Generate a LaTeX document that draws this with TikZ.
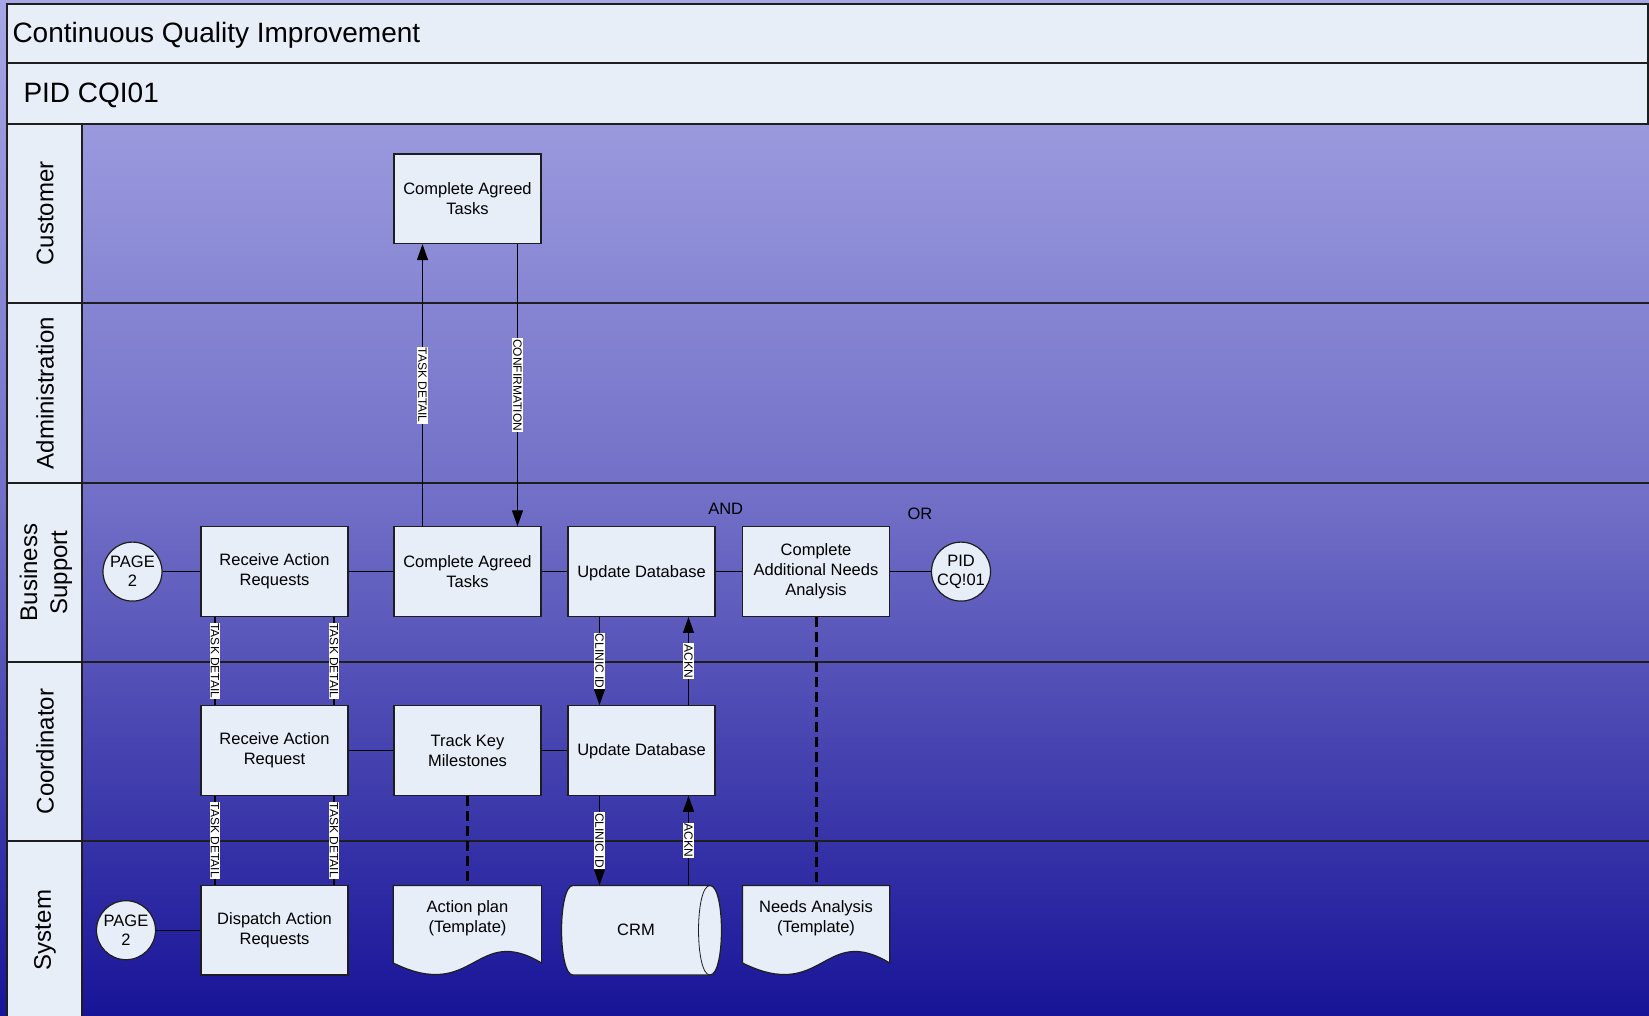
\documentclass[tikz,border=0pt]{standalone}
\usepackage{fontspec}
\setmainfont{Liberation Sans}
\usetikzlibrary{arrows.meta,calc}
\definecolor{boxfill}{RGB}{231,238,248}
\definecolor{bgtop}{RGB}{168,167,229}
\definecolor{bgmid}{RGB}{112,110,198}
\definecolor{bgbot}{RGB}{24,20,152}
\definecolor{edge}{RGB}{30,30,30}
\begin{document}
\begin{tikzpicture}[x=1pt,y=-1pt,
  every node/.style={font=\fontsize{16.5}{20}\selectfont, text=black},
  proc/.style={draw=edge, line width=1.2pt, fill=boxfill, minimum width=147pt, minimum height=89.5pt, align=center, inner sep=2pt},
  conn/.style={circle, draw=edge, line width=1.2pt, fill=boxfill, minimum size=59pt, inner sep=0pt, align=center, font=\fontsize{16.5}{19}\selectfont},
  shapeonly/.style={minimum width=147pt, align=center, inner sep=0pt},
  flow/.style={line width=1.2pt, draw=black},
  arr/.style={flow, -{Triangle[length=16pt,width=11pt]}},
  dashline/.style={line width=3pt, draw=black, dash pattern=on 10pt off 5pt},
  lbl/.style={fill=white, inner sep=1pt, rotate=-90, font=\fontsize{12}{12}\selectfont},
  lanetxt/.style={rotate=90, align=center, font=\fontsize{24}{30}\selectfont},
  gate/.style={font=\fontsize{16.5}{20}\selectfont},
]
\useasboundingbox (0,0) rectangle (1649,1016);
\shade[top color=bgtop, bottom color=bgbot, middle color=bgmid] (0,0) rectangle (1649,1016);

% title bars
\draw[line width=1.5pt, draw=edge, fill=boxfill] (7,4) rectangle (1648,63);
\draw[line width=1.5pt, draw=edge, fill=boxfill] (7,63) rectangle (1648,124);
\node[anchor=west, font=\fontsize{28}{30}\selectfont] (title) at (9,35) {Continuous Quality Improvement};
\node[anchor=west, font=\fontsize{28}{30}\selectfont] (pidtitle) at (20,95) {PID CQI01};

% lane header column and lane lines
\draw[line width=1.2pt, draw=edge, fill=boxfill] (7,124) rectangle (82,1018);
\foreach \yy in {303,483,662,841} {\draw[line width=1.2pt, draw=edge] (7,\yy) -- (1649,\yy);}
\node[lanetxt] (lcust) at (45,213.5) {Customer};
\node[lanetxt] (ladmin) at (45,393) {Administration};
\node[lanetxt] (lbs) at (46,572.5) {Business\\Support};
\node[lanetxt] (lcoord) at (45,751.5) {Coordinator};
\node[lanetxt] (lsys) at (45,930) {System};

% customer lane
\node[proc] (cat1) at (467.5,198.75) {Complete Agreed\\Tasks};

% business support lane
\node[conn] (p1) at (132.5,571.6) {PAGE\\2};
\node[proc] (rar1) at (274.5,571.6) {Receive Action\\Requests};
\node[proc] (cat2) at (467.5,571.6) {Complete Agreed\\Tasks};
\node[proc, text depth=1pt] (upd1) at (641.5,571.6) {Update Database};
\node[proc] (cana) at (816,571.6) {Complete\\Additional Needs\\Analysis};
\node[conn] (pid2) at (961,571.6) {PID\\CQ!01};
\node[gate] (and) at (725.7,509) {AND};
\node[gate] (or) at (920,514) {OR};

% coordinator lane
\node[proc] (rar2) at (274.5,750.4) {Receive Action\\Request};
\node[proc] (tkm) at (467.5,750.4) {Track Key\\Milestones};
\node[proc, text depth=1pt] (upd2) at (641.5,750.4) {Update Database};

% system lane
\node[conn] (p2) at (126,930.2) {PAGE\\2};
\node[proc] (dar) at (274.5,930.2) {Dispatch Action\\Requests};
% action plan document
\draw[flow, draw=edge, fill=boxfill] (393.3,885.5) -- (541.6,885.5) -- (541.6,963)
  .. controls (474.9,923) and (474.9,1003) .. (393.3,963) -- cycle;
\node[shapeonly, minimum height=65pt] (ap) at (467.5,918) {Action plan\\(Template)};
% CRM cylinder
\draw[flow, draw=edge, fill=boxfill] (573,885.5) -- (710,885.5)
  .. controls (725.3,885.5) and (725.3,975) .. (710,975) -- (573,975)
  .. controls (557.7,975) and (557.7,885.5) .. (573,885.5) -- cycle;
\draw[line width=0.8pt, draw=edge] (710,885.5) .. controls (694.7,885.5) and (694.7,975) .. (710,975);
\node[shapeonly, minimum height=89.5pt] (crm) at (636,930.2) {CRM};
% needs analysis document
\draw[flow, draw=edge, fill=boxfill] (742.5,885.5) -- (889.7,885.5) -- (889.7,963)
  .. controls (823.5,923) and (823.5,1003) .. (742.5,963) -- cycle;
\node[shapeonly, minimum height=65pt] (na) at (816,918) {Needs Analysis\\(Template)};

% horizontal flow lines
\draw[flow] (p1) -- (rar1);
\draw[flow] (rar1) -- (cat2);
\draw[flow] (cat2) -- (upd1);
\draw[flow] (upd1) -- (cana);
\draw[flow] (cana) -- (pid2);
\draw[flow] (rar2) -- (tkm);
\draw[flow] (tkm) -- (upd2);
\draw[flow] (p2) -- (dar);

% customer <-> business support
\draw[arr] ([xshift=-45pt]cat2.north) -- node[lbl, midway] {TASK DETAIL} ([xshift=-45pt]cat1.south);
\draw[arr] ([xshift=50pt]cat1.south) -- node[lbl, midway] {CONFIRMATION} ([xshift=50pt]cat2.north);

% task detail links
\draw[flow] ([xshift=-59.5pt]rar1.south) -- node[lbl, midway] {TASK DETAIL} ([xshift=-59.5pt]rar2.north);
\draw[flow] ([xshift=59.5pt]rar1.south) -- node[lbl, midway] {TASK DETAIL} ([xshift=59.5pt]rar2.north);
\draw[flow] ([xshift=-59.5pt]rar2.south) -- node[lbl, midway] {TASK DETAIL} ([xshift=-59.5pt]dar.north);
\draw[flow] ([xshift=59.5pt]rar2.south) -- node[lbl, midway] {TASK DETAIL} ([xshift=59.5pt]dar.north);

% database links
\draw[arr] ([xshift=-42pt]upd1.south) -- node[lbl, midway] {CLINIC ID} ([xshift=-42pt]upd2.north);
\draw[arr] ([xshift=47pt]upd2.north) -- node[lbl, midway] {ACKN} ([xshift=47pt]upd1.south);
\draw[arr] ([xshift=-42pt]upd2.south) -- node[lbl, midway] {CLINIC ID} ([xshift=-36.5pt]crm.north);
\draw[arr] ([xshift=52.5pt]crm.north) -- node[lbl, midway] {ACKN} ([xshift=47pt]upd2.south);

% dashed template links
\draw[dashline] (tkm.south) -- (ap.north);
\draw[dashline] (cana.south) -- (na.north);
\end{tikzpicture}
\end{document}
